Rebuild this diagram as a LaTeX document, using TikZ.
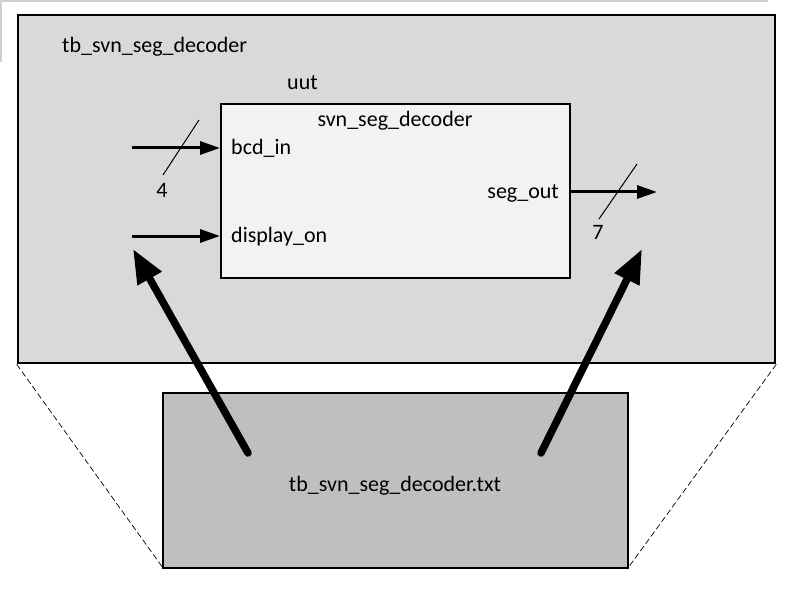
\documentclass[tikz,border=0pt]{standalone}
\usepackage{fontspec}
\setmainfont{Carlito}
\usetikzlibrary{arrows.meta}
\definecolor{outerfill}{HTML}{D9D9D9}
\definecolor{innerfill}{HTML}{F2F2F2}
\definecolor{filefill}{HTML}{BFBFBF}
\definecolor{framegray}{HTML}{D0D0D0}
\tikzset{
  box/.style={draw=black, rectangle, inner sep=0pt},
  lbl/.style={inner sep=0pt, font=\fontsize{22}{26}\selectfont},
  sigarrow/.style={line width=3pt, -{Triangle[length=20pt,width=13pt]}},
  bigarrow/.style={line width=7.5pt, line cap=round, -{Triangle[length=34pt,width=26pt]}},
  buswidth/.style={line width=1pt},
  zoomline/.style={line width=0.7pt, dash pattern=on 6pt off 3pt}
}
\begin{document}
\begin{tikzpicture}[x=1pt,y=-1pt]
\useasboundingbox (0,0) rectangle (809,591);
\draw[framegray, line width=1.5pt] (768,1) -- (1,1) -- (1,62);
% outer testbench box
\node[box, fill=outerfill, line width=2.6pt, minimum width=757pt, minimum height=348pt] (tb) at (396.5,189) {};
\node[lbl, anchor=base west] (tbname) at (62,53) {tb\_svn\_seg\_decoder};
% uut
\node[box, fill=innerfill, line width=2pt, minimum width=349pt, minimum height=174pt] (uut) at (395.5,191) {};
\node[lbl, anchor=base west] (uutname) at (287,90) {uut};
\node[lbl, anchor=base] (modname) at (395,127) {svn\_seg\_decoder};
\node[lbl, anchor=base west] (bcd) at (231,155) {bcd\_in};
\node[lbl, anchor=base west] (disp) at (231,242) {display\_on};
\node[lbl, anchor=base east] (seg) at (559,199) {seg\_out};
% signal arrows
\coordinate (bcdsrc) at (132,148);
\coordinate (dispsrc) at (132,236);
\coordinate (segdst) at (657,192);
\draw[sigarrow] (bcdsrc) -- (uut.west |- bcdsrc);
\draw[sigarrow] (dispsrc) -- (uut.west |- dispsrc);
\draw[sigarrow] (uut.east |- segdst) -- (segdst);
% bus width marks
\coordinate (s4a) at (163,175);
\coordinate (s4b) at (199,120);
\draw[buswidth] (s4a) -- (s4b);
\node[lbl, anchor=base] (w4) at (162,197) {4};
\coordinate (s7a) at (599,219);
\coordinate (s7b) at (637,164);
\draw[buswidth] (s7a) -- (s7b);
\node[lbl, anchor=base] (w7) at (598,240) {7};
% zoom lines
\draw[zoomline] (tb.south west) -- (163,568);
\draw[zoomline] (tb.south east) -- (628,568);
% file box
\node[box, fill=filefill, line width=2pt, minimum width=465pt, minimum height=175pt] (file) at (395.5,480.5) {};
\node[lbl, anchor=base] (filename) at (395,491) {tb\_svn\_seg\_decoder.txt};
% big arrows
\coordinate (ls) at (248,453);
\coordinate (lt) at (133,249);
\coordinate (rs) at (541,453);
\coordinate (rt) at (642,249);
\draw[bigarrow] (ls) -- (lt);
\draw[bigarrow] (rs) -- (rt);
\end{tikzpicture}
\end{document}
